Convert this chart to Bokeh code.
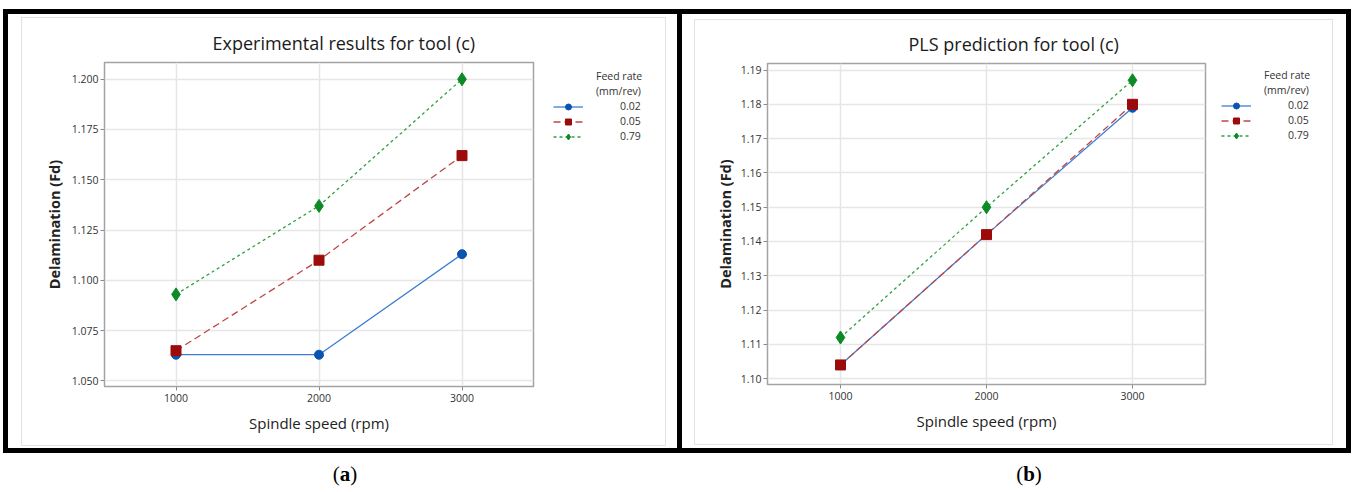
from bokeh.plotting import figure
from bokeh.models import (Range1d, FixedTicker, NumeralTickFormatter, Legend,
                          LegendItem, Div, Spacer)
from bokeh.layouts import row, column
from bokeh.embed import file_html
from bokeh.resources import INLINE

# ---------------- data ----------------
speeds = [1000, 2000, 3000]
feed_rates = ["0.02", "0.05", "0.79"]
legend_title = ["Feed rate", "(mm/rev)"]

exp_002 = [1.063, 1.063, 1.113]
exp_005 = [1.065, 1.110, 1.162]
exp_079 = [1.093, 1.137, 1.200]

pls_002 = [1.104, 1.142, 1.179]
pls_005 = [1.104, 1.142, 1.180]
pls_079 = [1.112, 1.150, 1.187]

exp_yticks = [1.050, 1.075, 1.100, 1.125, 1.150, 1.175, 1.200]
pls_yticks = [1.10, 1.11, 1.12, 1.13, 1.14, 1.15, 1.16, 1.17, 1.18, 1.19]

# ---------------- styles ----------------
FONT = "Open Sans"
LINE_COLORS = ["#3c7dd4", "#c04646", "#2ea043"]
MARK_COLORS = ["#0a55b0", "#9c0b0b", "#0b8a25"]
MARKERS = ["circle", "square", "diamond"]
SIZES = [9, 10, 13]
DASHES = ["solid", "7 4", "3 3"]
PAD = "\u2007" * 4   # figure spaces: right-align the short labels


def draw_series(p, series):
    rends = []
    for i, ys in enumerate(series):
        lr = p.line(speeds, ys, line_color=LINE_COLORS[i], line_width=1.3,
                    line_dash=DASHES[i])
        sr = p.scatter(speeds, ys, marker=MARKERS[i], size=SIZES[i],
                       fill_color=MARK_COLORS[i], line_color=MARK_COLORS[i])
        rends.append([lr, sr])
    return rends


def make_panel(title, series, yr, yticks, yfmt, w, h, bl, bt, bb,
               title_offset, ylab_standoff):
    p = figure(x_range=Range1d(500, 3500), y_range=Range1d(*yr),
               width=w, height=h, sizing_mode="fixed",
               min_border_left=bl, min_border_right=2,
               min_border_top=bt, min_border_bottom=bb,
               output_backend="svg", toolbar_location=None,
               background_fill_color="white", border_fill_color="white",
               outline_line_color="#a3a3a3", outline_line_width=1.5)

    p.title.text = title
    p.title.align = "left"
    p.title.offset = title_offset
    p.title.text_font = FONT
    p.title.text_font_size = "18px"
    p.title.text_font_style = "normal"
    p.title.text_color = "#1a1a1a"
    p.title.standoff = 16

    p.xaxis.ticker = FixedTicker(ticks=speeds)
    p.yaxis.ticker = FixedTicker(ticks=yticks)
    p.yaxis.formatter = NumeralTickFormatter(format=yfmt)
    for ax in (p.xaxis[0], p.yaxis[0]):
        ax.axis_line_color = None
        ax.major_tick_line_color = "#8a8a8a"
        ax.major_tick_out = 4
        ax.major_tick_in = 0
        ax.minor_tick_line_color = None
        ax.major_label_text_font = FONT
        ax.major_label_text_font_size = "10.5px"
        ax.major_label_text_color = "#333333"
        ax.axis_label_text_font = FONT
        ax.axis_label_text_color = "#222222"
    p.xaxis.major_label_standoff = 3
    p.yaxis.major_label_standoff = 2
    p.xaxis.axis_label = "Spindle speed (rpm)"
    p.xaxis.axis_label_text_font_size = "15px"
    p.xaxis.axis_label_text_font_style = "normal"
    p.xaxis.axis_label_standoff = 8
    p.yaxis.axis_label = "Delamination (Fd)"
    p.yaxis.axis_label_text_font_size = "14.5px"
    p.yaxis.axis_label_text_font_style = "bold"
    p.yaxis.axis_label_standoff = ylab_standoff

    p.xgrid.grid_line_color = "#e6e6e6"
    p.ygrid.grid_line_color = "#e6e6e6"
    p.xgrid.grid_line_width = 1.5
    p.ygrid.grid_line_width = 1.5

    draw_series(p, series)
    return p


def make_legend(series, w, h, loc):
    # a frame-only figure holding the legend (its glyphs lie outside the view)
    q = figure(x_range=Range1d(0, 1), y_range=Range1d(0, 1),
               width=w, height=h, sizing_mode="fixed", min_border=0,
               x_axis_type=None, y_axis_type=None,
               output_backend="svg", toolbar_location=None,
               background_fill_color="white", border_fill_color="white",
               outline_line_color=None)
    q.grid.visible = False
    rends = draw_series(q, series)
    items = [LegendItem(label=t, renderers=[]) for t in legend_title]
    for lab, rr in zip(feed_rates, rends):
        items.append(LegendItem(label=PAD + lab, renderers=rr))
    leg = Legend(items=items, location=loc, orientation="vertical",
                 border_line_color=None, background_fill_alpha=0,
                 padding=0, margin=0, spacing=0,
                 glyph_width=30, glyph_height=15, label_height=15,
                 label_standoff=13, label_text_font=FONT,
                 label_text_font_size="10.5px", label_text_color="#333333")
    q.add_layout(leg)
    return q


ser_a = [exp_002, exp_005, exp_079]
ser_b = [pls_002, pls_005, pls_079]

pa = make_panel("Experimental results for tool (c)", ser_a,
                (1.0472, 1.2083), exp_yticks, "0.000",
                513, 427, 82, 44, 59, 108, 5)
la = make_legend(ser_a, 130, 427, (18, 242.5))
card_a = row(pa, la, styles={"border": "1px solid #e2e2e2"},
             margin=(3, 11, 2, 13))

pb = make_panel("PLS prediction for tool (c)", ser_b,
                (1.0983, 1.1919), pls_yticks, "0.00",
                512, 424, 72, 43, 60, 141, 3)
lb = make_legend(ser_b, 125, 424, (14, 241.5))
card_b = row(pb, lb, styles={"border": "1px solid #e2e2e2"},
             margin=(5, 13, 3, 12))

divider = Spacer(width=5, height=434, styles={"background-color": "black"})
box = row(card_a, divider, card_b, styles={"border": "5px solid black"},
          margin=(9, 0, 0, 3))

lab_style = ("font-family:'Liberation Serif';font-size:21px;text-align:center;"
             "width:674px;padding-top:4px;color:#000000;line-height:24px")
lab_a = Div(text=f'<div style="{lab_style}">(<b>a</b>)</div>', width=674, height=36)
lab_b = Div(text=f'<div style="{lab_style}">(<b>b</b>)</div>', width=674, height=36)
labels = row(lab_a, lab_b, margin=(0, 0, 0, 3))

root = column(box, labels)

open("out.html", "w").write(file_html(root, INLINE))
